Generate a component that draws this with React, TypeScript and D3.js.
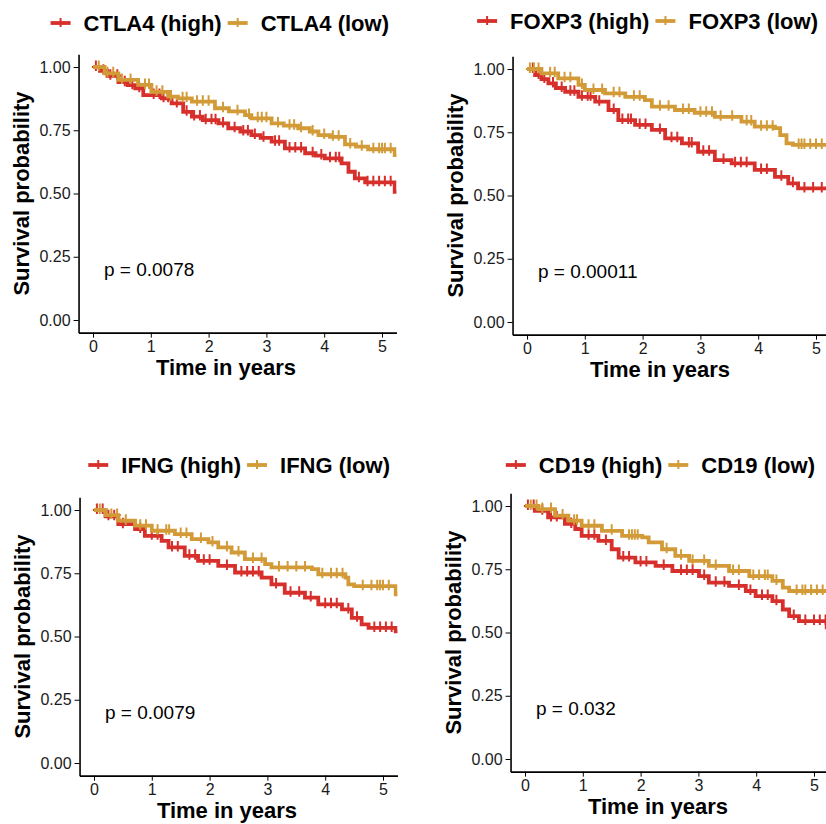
import React, { useRef, useEffect } from 'react';
import * as d3 from 'd3';

type Pt = [number, number];

// Genes, p values and axis ticks
const genes = ['CTLA4', 'FOXP3', 'IFNG', 'CD19'];
const pValues = ['p = 0.0078', 'p = 0.00011', 'p = 0.0079', 'p = 0.032'];
const yTicks = [0, 0.25, 0.5, 0.75, 1];
const xTicks = [0, 1, 2, 3, 4, 5];
const followUpEnd = 5.4;

// Kaplan-Meier steps [time in years, survival]
const ctla4High: Pt[] = [[0, 1], [0.12, 0.985], [0.25, 0.965], [0.44, 0.94], [0.6, 0.928], [0.73, 0.916], [0.87, 0.889], [1.19, 0.876], [1.36, 0.856], [1.56, 0.823], [1.71, 0.804], [1.9, 0.79], [2.17, 0.777], [2.34, 0.758], [2.55, 0.745], [2.74, 0.731], [2.9, 0.72], [3.09, 0.705], [3.32, 0.678], [3.67, 0.659], [3.85, 0.65], [4.01, 0.639], [4.3, 0.619], [4.42, 0.586], [4.53, 0.56], [4.71, 0.544], [5.22, 0.507]];
const ctla4Low: Pt[] = [[0, 1], [0.2, 0.975], [0.44, 0.949], [0.78, 0.929], [1.01, 0.902], [1.3, 0.883], [1.47, 0.876], [1.71, 0.863], [2.11, 0.837], [2.35, 0.825], [2.63, 0.81], [2.74, 0.797], [3.09, 0.777], [3.3, 0.768], [3.55, 0.758], [3.75, 0.745], [3.9, 0.731], [4.1, 0.724], [4.36, 0.694], [4.55, 0.685], [4.76, 0.675], [5.22, 0.652]];
const foxp3High: Pt[] = [[0, 1], [0.14, 0.976], [0.25, 0.96], [0.37, 0.943], [0.5, 0.925], [0.66, 0.91], [0.89, 0.89], [1.18, 0.871], [1.41, 0.838], [1.58, 0.798], [1.87, 0.779], [2.16, 0.759], [2.39, 0.726], [2.68, 0.706], [2.96, 0.673], [3.25, 0.64], [3.54, 0.627], [3.94, 0.601], [4.29, 0.574], [4.52, 0.548], [4.69, 0.528]];
const foxp3Low: Pt[] = [[0, 1], [0.25, 0.983], [0.54, 0.963], [0.89, 0.937], [1.0, 0.917], [1.35, 0.904], [1.7, 0.89], [2.04, 0.877], [2.16, 0.851], [2.56, 0.838], [2.9, 0.827], [3.25, 0.811], [3.71, 0.792], [3.94, 0.772], [4.29, 0.766], [4.38, 0.739], [4.49, 0.706], [4.6, 0.7]];
const ifngHigh: Pt[] = [[0, 1], [0.2, 0.975], [0.42, 0.944], [0.71, 0.925], [0.88, 0.898], [1.17, 0.878], [1.29, 0.852], [1.57, 0.819], [1.8, 0.799], [2.15, 0.779], [2.44, 0.753], [2.9, 0.733], [3.07, 0.706], [3.3, 0.673], [3.65, 0.654], [3.88, 0.627], [4.29, 0.607], [4.46, 0.574], [4.63, 0.548], [4.75, 0.534], [5.22, 0.52]];
const ifngLow: Pt[] = [[0, 1], [0.2, 0.98], [0.42, 0.958], [0.71, 0.938], [1.0, 0.918], [1.4, 0.905], [1.69, 0.885], [1.98, 0.872], [2.15, 0.852], [2.38, 0.832], [2.61, 0.806], [2.96, 0.786], [3.07, 0.773], [3.77, 0.766], [3.88, 0.746], [4.35, 0.733], [4.4, 0.706], [4.5, 0.699], [5.22, 0.667]];
const cd19High: Pt[] = [[0, 1], [0.17, 0.981], [0.4, 0.955], [0.69, 0.929], [0.87, 0.909], [0.98, 0.882], [1.27, 0.862], [1.5, 0.829], [1.62, 0.796], [1.91, 0.777], [2.26, 0.763], [2.55, 0.743], [3.01, 0.723], [3.18, 0.697], [3.53, 0.684], [3.82, 0.664], [3.99, 0.644], [4.28, 0.624], [4.46, 0.591], [4.57, 0.565], [4.74, 0.545], [5.22, 0.52]];
const cd19Low: Pt[] = [[0, 1], [0.23, 0.988], [0.52, 0.962], [0.75, 0.942], [0.98, 0.922], [1.33, 0.902], [1.68, 0.882], [2.03, 0.876], [2.14, 0.856], [2.37, 0.829], [2.6, 0.803], [2.84, 0.783], [3.18, 0.763], [3.53, 0.743], [3.88, 0.723], [4.28, 0.704], [4.46, 0.677], [4.57, 0.664]];

// Censoring times (years)
const ctla4HighCens = [0.05, 0.18, 0.3, 0.42, 0.55, 0.68, 0.8, 1.05, 1.15, 1.22, 1.3, 1.45, 1.62, 1.75, 1.85, 1.95, 2.05, 2.12, 2.25, 2.45, 2.6, 2.68, 2.8, 2.95, 3.15, 3.22, 3.4, 3.5, 3.6, 3.8, 3.95, 4.1, 4.2, 4.26, 4.6, 4.75, 4.85, 4.95, 5.05, 5.15];
const ctla4LowCens = [0.1, 0.25, 0.35, 0.5, 0.65, 0.9, 0.97, 1.1, 1.2, 1.35, 1.55, 1.62, 1.8, 1.9, 2.0, 2.25, 2.5, 2.7, 2.85, 2.92, 3.0, 3.2, 3.4, 3.48, 3.6, 3.8, 4.0, 4.15, 4.25, 4.45, 4.65, 4.85, 4.95, 5.0, 5.05, 5.15];
const foxp3HighCens = [0.1, 0.2, 0.3, 0.45, 0.6, 0.75, 0.82, 0.95, 1.05, 1.1, 1.25, 1.5, 1.65, 1.75, 1.8, 1.95, 2.05, 2.3, 2.5, 2.6, 2.8, 2.85, 3.05, 3.15, 3.4, 3.6, 3.7, 3.8, 4.05, 4.15, 4.4, 4.6, 4.8, 4.95, 5.1, 5.2];
const foxp3LowCens = [0.05, 0.12, 0.2, 0.4, 0.48, 0.65, 0.75, 0.95, 1.15, 1.3, 1.5, 1.6, 1.85, 1.95, 2.3, 2.45, 2.7, 2.8, 3.0, 3.1, 3.2, 3.35, 3.55, 3.8, 3.88, 4.05, 4.15, 4.25, 4.7, 4.75, 4.8, 4.9, 5.0, 5.1, 5.2];
const ifngHighCens = [0.05, 0.15, 0.25, 0.35, 0.5, 0.8, 1.0, 1.1, 1.35, 1.45, 1.65, 1.75, 1.9, 2.0, 2.3, 2.55, 2.65, 2.75, 2.85, 3.15, 3.4, 3.55, 3.75, 4.0, 4.1, 4.2, 4.4, 4.55, 4.85, 4.95, 5.05, 5.15];
const ifngLowCens = [0.1, 0.3, 0.4, 0.55, 0.8, 0.9, 1.1, 1.25, 1.3, 1.5, 1.6, 1.85, 2.05, 2.3, 2.5, 2.75, 2.9, 3.2, 3.35, 3.5, 3.65, 3.95, 4.1, 4.2, 4.3, 4.65, 4.8, 4.9, 4.95, 5.0, 5.1];
const cd19HighCens = [0.05, 0.15, 0.3, 0.45, 0.55, 0.8, 1.1, 1.2, 1.4, 1.7, 1.8, 2.0, 2.1, 2.4, 2.7, 2.8, 2.9, 3.1, 3.3, 3.45, 3.7, 3.9, 4.1, 4.2, 4.35, 4.65, 4.85, 5.0, 5.1, 5.2];
const cd19LowCens = [0.1, 0.2, 0.3, 0.45, 0.65, 0.85, 0.9, 1.1, 1.2, 1.5, 1.8, 1.85, 1.9, 1.95, 2.45, 2.7, 2.9, 3.1, 3.3, 3.6, 3.7, 3.95, 4.05, 4.15, 4.2, 4.35, 4.7, 4.8, 4.85, 4.95, 5.05, 5.15];

const highCurves = [ctla4High, foxp3High, ifngHigh, cd19High];
const lowCurves = [ctla4Low, foxp3Low, ifngLow, cd19Low];
const highCens = [ctla4HighCens, foxp3HighCens, ifngHighCens, cd19HighCens];
const lowCens = [ctla4LowCens, foxp3LowCens, ifngLowCens, cd19LowCens];

const RED = '#D7302C';
const GOLD = '#D39B38';
const FONT = '"Liberation Sans", Arial, Helvetica, sans-serif';

// pixel position of time 0 / survival 0 for every panel, and legend placement
const panels = [
    { x0: 93, y0: 320, legendRight: 389, legendY: 23 },
    { x0: 527, y0: 322, legendRight: 818, legendY: 21 },
    { x0: 94, y0: 763, legendRight: 390, legendY: 465 },
    { x0: 525, y0: 759, legendRight: 815, legendY: 465 },
];
const pxPerYear = 57.8;
const pxPerUnit = 253;

const App = () => {
    const svgRef = useRef<SVGSVGElement>(null);

    useEffect(() => {
        const width = 826;
        const height = 824;
        const svg = d3.select(svgRef.current)
            .attr('width', width)
            .attr('height', height)
            .attr('viewBox', `0 0 ${width} ${height}`)
            .style('font-family', FONT);

        svg.selectAll('*').remove();

        const bis = d3.bisector((d: Pt) => d[0]).right;

        panels.forEach((p, i) => {
            const x = d3.scaleLinear()
                .domain([-0.25, 5.25])
                .range([p.x0 - 0.25 * pxPerYear, p.x0 + 5.25 * pxPerYear]);
            const y = d3.scaleLinear()
                .domain([-0.05, 1.05])
                .range([p.y0 + 0.05 * pxPerUnit, p.y0 - 1.05 * pxPerUnit]);

            const g = svg.append('g');
            const clipId = `clip${i}`;
            g.append('clipPath').attr('id', clipId)
                .append('rect')
                .attr('x', x(-0.25))
                .attr('y', y(1.05) - 4)
                .attr('width', x(5.25) - x(-0.25))
                .attr('height', y(-0.05) - y(1.05) + 4);

            const line = d3.line<Pt>()
                .x(d => x(d[0]))
                .y(d => y(d[1]))
                .curve(d3.curveStepAfter);

            const plot = g.append('g').attr('clip-path', `url(#${clipId})`);

            const drawCurve = (data: Pt[], cens: number[], color: string) => {
                const full: Pt[] = [...data, [followUpEnd, data[data.length - 1][1]]];
                plot.append('path')
                    .datum(full)
                    .attr('fill', 'none')
                    .attr('stroke', color)
                    .attr('stroke-width', 3.8)
                    .attr('d', line);
                const marks = cens.map(c => {
                    const k = Math.max(0, bis(data, c) - 1);
                    return [c, data[k][1]] as Pt;
                });
                plot.append('g').selectAll('path')
                    .data(marks)
                    .join('path')
                    .attr('d', d => `M${x(d[0]) - 4},${y(d[1])}H${x(d[0]) + 4}M${x(d[0])},${y(d[1]) - 6.5}V${y(d[1]) + 4}`)
                    .attr('stroke', color)
                    .attr('stroke-width', 2)
                    .attr('fill', 'none');
            };
            drawCurve(highCurves[i], highCens[i], RED);
            drawCurve(lowCurves[i], lowCens[i], GOLD);

            // y axis
            g.append('g')
                .attr('transform', `translate(${x(-0.25)},0)`)
                .call(d3.axisLeft(y).tickValues(yTicks).tickFormat(d3.format('.2f')).tickSize(5).tickPadding(3).tickSizeOuter(0))
                .call(a => a.select('.domain').attr('stroke', '#000').attr('stroke-width', 1.6))
                .call(a => a.selectAll('.tick line').attr('stroke', '#000').attr('stroke-width', 1))
                .call(a => a.selectAll('.tick text').attr('font-size', 16).attr('font-family', FONT).attr('fill', '#1a1a1a'));

            // x axis
            g.append('g')
                .attr('transform', `translate(0,${y(-0.05)})`)
                .call(d3.axisBottom(x).tickValues(xTicks).tickFormat(d3.format('d')).tickSize(5).tickPadding(3).tickSizeOuter(0))
                .call(a => a.select('.domain').attr('stroke', '#000').attr('stroke-width', 1.6))
                .call(a => a.selectAll('.tick line').attr('stroke', '#000').attr('stroke-width', 1))
                .call(a => a.selectAll('.tick text').attr('font-size', 16).attr('font-family', FONT).attr('fill', '#1a1a1a'));

            // axis titles
            g.append('text')
                .attr('x', p.x0 + 133)
                .attr('y', y(-0.05) + 42)
                .attr('text-anchor', 'middle')
                .attr('font-size', 22)
                .attr('font-weight', 'bold')
                .text('Time in years');
            g.append('text')
                .attr('transform', `translate(${x(-0.25) - 49.5},${y(0.5)}) rotate(-90)`)
                .attr('text-anchor', 'middle')
                .attr('font-size', 22)
                .attr('font-weight', 'bold')
                .text('Survival probability');

            // p value
            g.append('text')
                .attr('x', x(0.19))
                .attr('y', y(0.2))
                .attr('dy', '0.35em')
                .attr('font-size', 19)
                .text(pValues[i]);

            // legend, right aligned
            const leg = g.append('g');
            const items = [
                { label: `${genes[i]} (high)`, color: RED },
                { label: `${genes[i]} (low)`, color: GOLD },
            ];
            const texts = items.map(it => leg.append('text')
                .attr('font-size', 22)
                .attr('font-weight', 'bold')
                .attr('y', p.legendY + 8)
                .text(it.label));
            const widths = texts.map(t => (t.node() as SVGTextElement).getComputedTextLength());
            const keyW = 20;
            const keyGap = 13;
            const itemGap = 6;
            let cursor = p.legendRight - (keyW + keyGap + widths[0] + itemGap + keyW + keyGap + widths[1]);
            items.forEach((it, k) => {
                const kx = cursor;
                leg.append('path')
                    .attr('d', `M${kx},${p.legendY}H${kx + keyW}`)
                    .attr('stroke', it.color)
                    .attr('stroke-width', 3.8);
                leg.append('path')
                    .attr('d', `M${kx + keyW / 2},${p.legendY - 5}V${p.legendY + 4}`)
                    .attr('stroke', it.color)
                    .attr('stroke-width', 2);
                texts[k].attr('x', kx + keyW + keyGap);
                cursor = kx + keyW + keyGap + widths[k] + itemGap;
            });
        });
    }, []);

    return (
        <svg ref={svgRef} style={{ position: 'absolute', left: 0, top: 0, background: '#fff' }}></svg>
    );
};

export default App;
